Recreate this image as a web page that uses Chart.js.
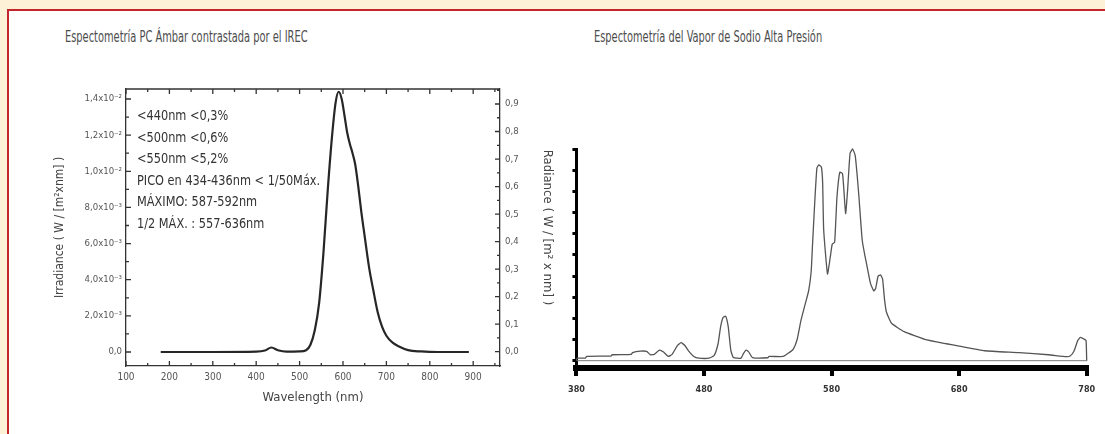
<!DOCTYPE html>
<html>
<head>
<meta charset="utf-8">
<script src="https://cdn.jsdelivr.net/npm/chart.js@4.4.1/dist/chart.umd.min.js"></script>
<style>
  body { margin: 0; width: 1105px; height: 434px; overflow: hidden; background: #fdf1d8; font-family: "Liberation Sans Narrow", "DejaVu Sans Condensed", "Liberation Sans", sans-serif; }
  #marco { position: absolute; left: 7px; top: 9px; width: 1110px; height: 440px; background: #fff; border-top: 2px solid #c4252b; border-left: 2px solid #c4252b; }
  .titulo { position: absolute; top: 28px; font-size: 15px; color: #4d4d4d; white-space: nowrap; transform: scaleX(0.73); transform-origin: left top; }
  #notas { position: absolute; left: 137px; top: 105px; font-size: 14px; line-height: 21.5px; color: #333; white-space: nowrap; transform: scaleX(0.9); transform-origin: left top; }
  .caja { position: absolute; }
</style>
</head>
<body>
<div id="marco"></div>
<div class="titulo" style="left:65px">Espectometría PC Ámbar contrastada por el IREC</div>
<div class="titulo" style="left:594px">Espectometría del Vapor de Sodio Alta Presión</div>

<div class="caja" style="left:20px; top:70px; width:540px; height:350px;"><canvas id="graficoAmbar"></canvas></div>
<div class="caja" style="left:560px; top:120px; width:545px; height:300px;"><canvas id="graficoSodio"></canvas></div>

<div id="notas">
  &lt;440nm &lt;0,3%<br>
  &lt;500nm &lt;0,6%<br>
  &lt;550nm &lt;5,2%<br>
  PICO en 434-436nm &lt; 1/50Máx.<br>
  MÁXIMO: 587-592nm<br>
  1/2 MÁX. : 557-636nm
</div>

<script>
// ===== datos: PC Ámbar (IREC) =====
const ambarLongitud = [180, 300, 400, 420, 435, 450, 470, 500, 515, 525, 535, 545, 555, 565, 575, 583, 590, 597, 604, 610, 616, 622, 628, 635, 642, 650, 660, 670, 680, 690, 700, 715, 730, 750, 780, 820, 890];
const ambarIrradiancia = [0, 0, 0.00002, 0.00008, 0.00025, 0.0001, 0.00002, 0.00003, 0.0001, 0.0004, 0.0012, 0.0027, 0.0055, 0.009, 0.012, 0.0138, 0.0144, 0.014, 0.013, 0.0121, 0.0115, 0.011, 0.0104, 0.0092, 0.0078, 0.0064, 0.0047, 0.0034, 0.0022, 0.0014, 0.0009, 0.0005, 0.0003, 0.0001, 0.00003, 0, 0];

const ticksLongitud = [100, 200, 300, 400, 500, 600, 700, 800, 900];
const ticksIrradiancia = [0, 0.002, 0.004, 0.006, 0.008, 0.01, 0.012, 0.014];
const etiquetasIrradiancia = ["0,0", "2,0x10⁻³", "4,0x10⁻³", "6,0x10⁻³", "8,0x10⁻³", "1,0x10⁻²", "1,2x10⁻²", "1,4x10⁻²"];
const ticksRadiancia = [0, 0.1, 0.2, 0.3, 0.4, 0.5, 0.6, 0.7, 0.8, 0.9];
const etiquetasRadiancia = ["0,0", "0,1", "0,2", "0,3", "0,4", "0,5", "0,6", "0,7", "0,8", "0,9"];

// ===== datos: Vapor de Sodio Alta Presión =====
const sodioLongitud = [380, 380.5, 387, 388, 407, 408, 423, 424, 430, 435, 438, 441, 445, 448, 452, 455, 459, 462, 465, 468, 472, 476, 484, 488, 491, 493, 495, 497, 499, 501, 503, 509, 511, 513, 515, 518, 530, 531, 542, 546, 550, 553, 556, 559, 562, 564, 565, 567, 568.5, 570, 572, 573, 573.8, 576.8, 579, 580.5, 582.4, 584.2, 586.4, 588.5, 589.5, 591, 592.5, 594.5, 596.5, 598.5, 600, 601.5, 604, 606, 608, 610.5, 613, 614.5, 616.5, 618.5, 620, 621.5, 623, 627, 637, 653, 670, 680, 700, 727, 750, 764, 767, 770, 773, 775, 778, 779.5, 780];
const sodioIntensidad = [0, 0.12, 0.12, 0.2, 0.22, 0.28, 0.3, 0.38, 0.45, 0.44, 0.28, 0.3, 0.5, 0.42, 0.2, 0.3, 0.7, 0.85, 0.72, 0.45, 0.2, 0.12, 0.12, 0.25, 0.8, 1.6, 2.05, 2.1, 1.6, 0.5, 0.15, 0.12, 0.35, 0.5, 0.42, 0.15, 0.14, 0.2, 0.2, 0.35, 0.55, 1.0, 1.9, 2.6, 3.3, 4.2, 5.4, 7.7, 9.1, 9.25, 9.15, 8.4, 6.2, 4.1, 4.9, 5.5, 5.6, 7.7, 8.9, 8.85, 8.2, 6.95, 8.0, 9.8, 10.0, 9.7, 8.8, 7.7, 5.7, 5.0, 4.4, 3.65, 3.3, 3.4, 4.0, 4.05, 3.85, 2.9, 2.3, 1.77, 1.37, 1.01, 0.8, 0.69, 0.47, 0.38, 0.28, 0.19, 0.22, 0.45, 0.95, 1.1, 1.02, 0.95, 0];
const ticksSodio = [380, 480, 580, 680, 780];
const ticksIntensidad = [0, 1, 2, 3, 4, 5, 6, 7, 8, 9, 10];

Chart.defaults.font.family = '"Liberation Sans Narrow", "DejaVu Sans Condensed", "Liberation Sans", sans-serif';
Chart.defaults.animation = false;

const fijar = (lista) => (s) => { s.ticks = lista.map((v) => ({ value: v })); };

// marcas hacia dentro y borde superior del gráfico de la izquierda
const marcasInternas = {
  id: "marcasInternas",
  afterDraw(chart) {
    const { ctx, chartArea: a, scales } = chart;
    ctx.save();
    ctx.strokeStyle = "#333";
    ctx.lineWidth = 1.3;
    ctx.beginPath();
    ctx.moveTo(a.left, a.top);
    ctx.lineTo(a.right, a.top);
    const linea = (x1, y1, x2, y2) => { ctx.moveTo(x1, y1); ctx.lineTo(x2, y2); };
    ticksLongitud.forEach((v) => {
      const px = scales.x.getPixelForValue(v);
      linea(px, a.bottom, px, a.bottom - 5);
      linea(px, a.top, px, a.top + 5);
      const m = scales.x.getPixelForValue(v + 50);
      if (m < a.right) {
        linea(m, a.bottom, m, a.bottom - 3);
        linea(m, a.top, m, a.top + 3);
      }
    });
    ticksIrradiancia.forEach((v) => {
      const py = scales.y.getPixelForValue(v);
      linea(a.left, py, a.left + 5, py);
      const m = scales.y.getPixelForValue(v + 0.001);
      if (m > a.top) linea(a.left, m, a.left + 3, m);
    });
    ticksRadiancia.forEach((v) => {
      const py = scales.y2.getPixelForValue(v);
      linea(a.right, py, a.right - 5, py);
      const m = scales.y2.getPixelForValue(v + 0.05);
      if (m > a.top) linea(a.right, m, a.right - 3, m);
    });
    ctx.stroke();
    ctx.restore();
  },
};

new Chart(document.getElementById("graficoAmbar"), {
  type: "line",
  data: {
    datasets: [
      {
        data: ambarLongitud.map((x, i) => ({ x, y: ambarIrradiancia[i] })),
        borderColor: "#262626",
        borderWidth: 2.2,
        pointRadius: 0,
        cubicInterpolationMode: "monotone",
        yAxisID: "y",
      },
    ],
  },
  options: {
    responsive: true,
    maintainAspectRatio: false,
    layout: { padding: { top: 19 } },
    plugins: { legend: { display: false }, tooltip: { enabled: false } },
    scales: {
      x: {
        type: "linear",
        min: 100,
        max: 961.8,
        afterBuildTicks: fijar(ticksLongitud),
        afterFit: (s) => { s.height = 54; },
        border: { color: "#333", width: 1.3 },
        grid: { display: true, drawOnChartArea: false, drawTicks: false, color: "transparent" },
        ticks: { color: "#555", font: { size: 10 }, padding: 5, maxRotation: 0 },
        title: { display: true, text: "Wavelength (nm)", color: "#444", font: { size: 13 }, padding: { bottom: 15 } },
      },
      y: {
        position: "left",
        min: -0.000775,
        max: 0.014553,
        afterBuildTicks: fijar(ticksIrradiancia),
        afterFit: (s) => { s.width = 106; },
        border: { color: "#333", width: 1.3 },
        grid: { drawOnChartArea: false, drawTicks: false, color: "transparent" },
        ticks: {
          color: "#555",
          font: { size: 9.5 },
          padding: 4,
          callback: (v) => etiquetasIrradiancia[ticksIrradiancia.findIndex((t) => Math.abs(t - v) < 1e-9)],
        },
        title: { display: true, text: "Irradiance ( W / [m²xnm] )", color: "#444", font: { size: 12 }, padding: { top: 33 } },
      },
      y2: {
        position: "right",
        min: -0.052,
        max: 0.9545,
        afterBuildTicks: fijar(ticksRadiancia),
        afterFit: (s) => { s.width = 60; },
        border: { color: "#333", width: 1.3 },
        grid: { drawOnChartArea: false, drawTicks: false, color: "transparent" },
        ticks: {
          color: "#555",
          font: { size: 9.5 },
          padding: 5,
          callback: (v) => etiquetasRadiancia[ticksRadiancia.findIndex((t) => Math.abs(t - v) < 1e-9)],
        },
        title: { display: true, text: "Radiance ( W / [m² x nm] )", color: "#444", font: { size: 13 }, padding: { top: 5 } },
      },
    },
  },
  plugins: [marcasInternas],
});

new Chart(document.getElementById("graficoSodio"), {
  type: "line",
  data: {
    datasets: [
      {
        data: sodioLongitud.map((x, i) => ({ x, y: sodioIntensidad[i] })),
        borderColor: "#555",
        borderWidth: 1.3,
        pointRadius: 0,
        tension: 0.15,
        clip: false,
      },
      {
        data: [{ x: ticksSodio[0], y: 0 }, { x: ticksSodio[ticksSodio.length - 1], y: 0 }],
        borderColor: "#777",
        borderWidth: 1,
        pointRadius: 0,
      },
    ],
  },
  options: {
    responsive: true,
    maintainAspectRatio: false,
    layout: { padding: { top: 29, right: 18.3 } },
    plugins: { legend: { display: false }, tooltip: { enabled: false } },
    scales: {
      x: {
        type: "linear",
        min: 380,
        max: 780,
        afterBuildTicks: fijar(ticksSodio),
        afterFit: (s) => { s.height = 52; },
        border: { color: "#000", width: 6 },
        grid: { drawOnChartArea: false, color: "#000", lineWidth: 4, tickLength: 8 },
        ticks: { color: "#333", font: { size: 9, weight: "bold" }, padding: 8, maxRotation: 0 },
      },
      y: {
        min: -0.345,
        max: 10,
        afterBuildTicks: fijar(ticksIntensidad),
        afterFit: (s) => { s.width = 12.3; },
        border: { color: "#000", width: 3 },
        grid: { drawOnChartArea: false, color: "#000", lineWidth: 3, tickLength: 4 },
        ticks: { display: false },
      },
    },
  },
});
</script>
</body>
</html>
